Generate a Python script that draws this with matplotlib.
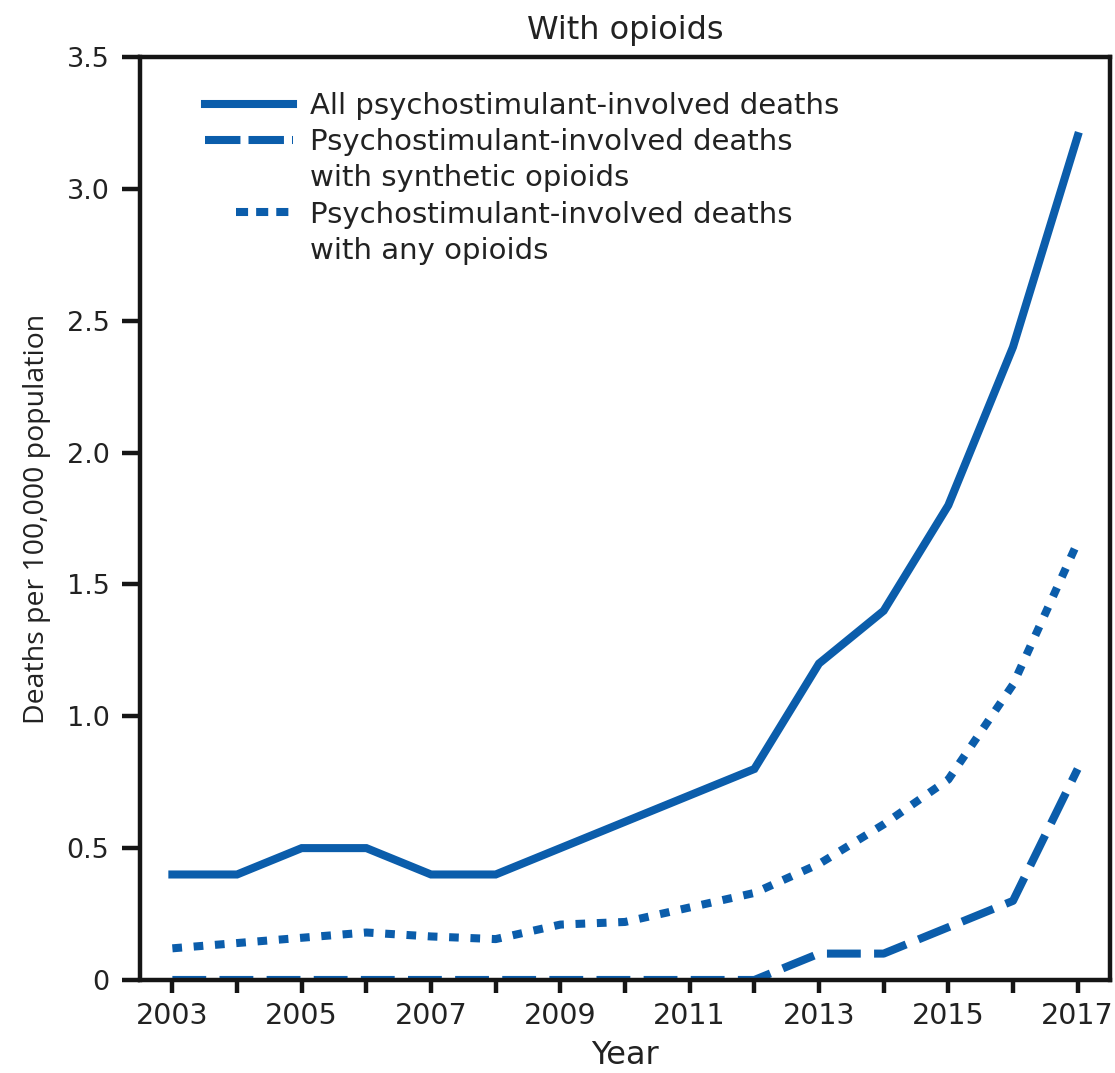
import matplotlib.pyplot as plt
from matplotlib.lines import Line2D
from matplotlib.legend_handler import HandlerLine2D

years = list(range(2003, 2018))
all_deaths = [0.4, 0.4, 0.5, 0.5, 0.4, 0.4, 0.5, 0.6, 0.7, 0.8, 1.2, 1.4, 1.8, 2.4, 3.2]
with_synthetic = [0, 0, 0, 0, 0, 0, 0, 0, 0, 0, 0.1, 0.1, 0.2, 0.3, 0.8]
with_any_opioids = [0.12, 0.14, 0.16, 0.18, 0.165, 0.155, 0.21, 0.22, 0.275, 0.33, 0.44, 0.59, 0.76, 1.12, 1.66]
xtick_years = [2003, 2005, 2007, 2009, 2011, 2013, 2015, 2017]
yticks = [0, 0.5, 1.0, 1.5, 2.0, 2.5, 3.0, 3.5]
ytick_labels = ['0', '0.5', '1.0', '1.5', '2.0', '2.5', '3.0', '3.5']
legend_lines = ['All psychostimulant-involved deaths',
                'Psychostimulant-involved deaths', 'with synthetic opioids',
                'Psychostimulant-involved deaths', 'with any opioids']

blue = '#0b5dab'
text_col = '#222222'
plt.rcParams['font.family'] = ['DejaVu Sans']


class ShortKey(HandlerLine2D):
    # right-aligned key, shorter than the others
    def create_artists(self, legend, orig_handle, xdescent, ydescent, width, height, fontsize, trans):
        short = width * 0.65
        return super().create_artists(legend, orig_handle, xdescent - (width - short), ydescent,
                                      short, height, fontsize, trans)


fig = plt.figure(figsize=(11.15, 10.73), dpi=100)
ax = fig.add_axes([0.1256, 0.0867, 0.8699, 0.8602])

lw = 5.8
dash = (4.2, 1.65)
dot = (1.2, 1.45)
ax.plot(years, all_deaths, color=blue, lw=lw, solid_joinstyle='miter')
ax.plot(years, with_synthetic, color=blue, lw=lw, dashes=dash, dash_capstyle='butt')
ax.plot(years, with_any_opioids, color=blue, lw=lw, dashes=dot, dash_capstyle='butt')

ax.set_xlim(2002.5, 2017.5)
ax.set_ylim(0, 3.5)
ax.set_xticks(years)
ax.set_xticklabels([str(y) if y in xtick_years else '' for y in years])
ax.set_yticks(yticks)
ax.set_yticklabels(ytick_labels)

for s in ax.spines.values():
    s.set_linewidth(3.2)
    s.set_color('#151515')
ax.tick_params(axis='both', width=3.2, color='#151515', labelcolor=text_col)
ax.tick_params(axis='y', length=13, pad=9, labelsize=19.5)
ax.tick_params(axis='x', length=9, pad=7, labelsize=20.5)

ax.set_xlabel('Year', fontsize=23, color=text_col, labelpad=7)
ax.set_ylabel('Deaths per 100,000 population', fontsize=20.5, color=text_col,
              labelpad=11, family='Open Sans')
ax.set_title('With opioids', fontsize=23, color=text_col, pad=13)

# legend: second text lines get blank handles so each key sits on the first line
blank = Line2D([], [], color='none')
dot_key = Line2D([], [], color=blue, lw=lw, dashes=(1.5, 1.0), dash_capstyle='butt')
handles = [Line2D([], [], color=blue, lw=lw),
           Line2D([], [], color=blue, lw=lw, dashes=(4.4, 1.0), dash_capstyle='butt'),
           blank,
           dot_key,
           blank]
ax.legend(handles, legend_lines, loc='upper left', bbox_to_anchor=(0.067, 0.962),
          frameon=False, fontsize=21, handlelength=3.0, handletextpad=0.6,
          labelspacing=0.28, borderpad=0, borderaxespad=0, labelcolor=text_col,
          handler_map={dot_key: ShortKey()})

fig.savefig('out.png', dpi=100)
